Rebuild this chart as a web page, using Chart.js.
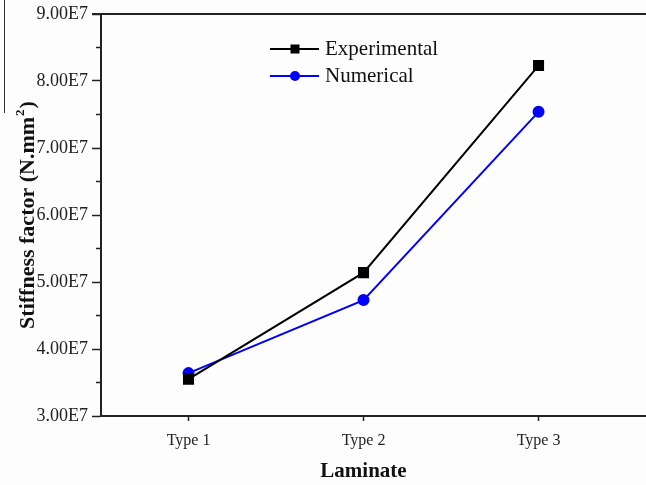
<!DOCTYPE html>
<html>
<head>
<meta charset="utf-8">
<script src="https://cdn.jsdelivr.net/npm/chart.js@4/dist/chart.umd.min.js"></script>
<style>
html,body{margin:0;padding:0;background:#fdfdfd;}
#wrap{width:646px;height:485px;position:relative;}
</style>
</head>
<body>
<div id="wrap"><canvas id="c" width="646" height="485"></canvas></div>
<script>
const categories = ["Type 1", "Type 2", "Type 3"];
const experimental = [3.55e7, 5.14e7, 8.23e7];
const numerical = [3.64e7, 4.73e7, 7.54e7];
const yTicks = [3e7, 4e7, 5e7, 6e7, 7e7, 8e7, 9e7];
const yMinorTicks = [3.5e7, 4.5e7, 5.5e7, 6.5e7, 7.5e7, 8.5e7];
const yTitle = "Stiffness factor (N.mm";
const yTitleSup = "2";
const xTitle = "Laminate";

const SERIF = "'Liberation Serif','Times New Roman',serif";

function toPoints(arr){ return arr.map((v,i)=>({x:i+1,y:v})); }

const decor = {
  id:'decor',
  afterDraw(chart){
    const ctx = chart.ctx, ca = chart.chartArea;
    const xs = chart.scales.x, ys = chart.scales.y;
    ctx.save();
    // top frame line
    ctx.strokeStyle = '#222'; ctx.lineWidth = 2;
    ctx.beginPath(); ctx.moveTo(ca.left-9, ca.top); ctx.lineTo(ca.right, ca.top); ctx.stroke();
    // minor ticks on y
    ctx.lineWidth = 1.5;
    yMinorTicks.forEach(v=>{
      const y = ys.getPixelForValue(v);
      ctx.beginPath(); ctx.moveTo(ca.left-5, y); ctx.lineTo(ca.left, y); ctx.stroke();
    });
    // small artifact line at far left
    ctx.strokeStyle = '#333'; ctx.lineWidth = 1;
    ctx.beginPath(); ctx.moveTo(4.5, 0); ctx.lineTo(4.5, 113); ctx.stroke();

    // y title (centred on the chart area)
    ctx.fillStyle = '#111';
    const big = "bold 22px " + SERIF, small = "bold 13px " + SERIF;
    ctx.font = big;
    const w = ctx.measureText(yTitle).width;
    const wp = ctx.measureText(")").width;
    ctx.font = small;
    const w2 = ctx.measureText(yTitleSup).width;
    const total = w + w2 + 2 + wp;
    const cy = (ca.top + ca.bottom) / 2;
    ctx.translate(34, cy + total/2);
    ctx.rotate(-Math.PI/2);
    ctx.textAlign = 'left'; ctx.textBaseline = 'alphabetic';
    ctx.font = big;
    ctx.fillText(yTitle, 0, 0);
    ctx.font = small;
    ctx.fillText(yTitleSup, w + 1, -10);
    ctx.font = big;
    ctx.fillText(")", w + w2 + 2, 0);
    ctx.setTransform(1,0,0,1,0,0);

    // x title
    ctx.font = "bold 21px " + SERIF;
    ctx.textAlign = 'center'; ctx.textBaseline = 'middle';
    ctx.fillText(xTitle, xs.getPixelForValue(2), 472);

    // legend
    const items = chart.data.datasets;
    items.forEach((ds, i)=>{
      const y = 49 + i*27;
      const x0 = 270, x1 = 319, xm = 295;
      ctx.strokeStyle = ds.borderColor; ctx.lineWidth = 2;
      ctx.beginPath(); ctx.moveTo(x0, y); ctx.lineTo(x1, y); ctx.stroke();
      ctx.fillStyle = ds.pointBackgroundColor;
      if (ds.pointStyle === 'rect') { ctx.fillRect(xm-4.5, y-4.5, 9, 9); }
      else { ctx.beginPath(); ctx.arc(xm, y, 5, 0, Math.PI*2); ctx.fill(); }
      ctx.fillStyle = '#111';
      ctx.font = "21px " + SERIF;
      ctx.textAlign = 'left'; ctx.textBaseline = 'middle';
      ctx.fillText(ds.label, 325, y);
    });
    ctx.restore();
  }
};

new Chart(document.getElementById('c'), {
  type: 'line',
  data: {
    datasets: [
      { label: 'Experimental', data: toPoints(experimental), borderColor: '#000', backgroundColor: '#000',
        pointBackgroundColor: '#000', pointBorderColor: '#000', pointStyle: 'rect', pointRadius: 6.4,
        borderWidth: 2, tension: 0 },
      { label: 'Numerical', data: toPoints(numerical), borderColor: '#0000ff', backgroundColor: '#0000ff',
        pointBackgroundColor: '#0000ff', pointBorderColor: '#0000ff', pointStyle: 'circle', pointRadius: 5,
        borderWidth: 2, tension: 0 }
    ]
  },
  options: {
    responsive: false,
    animation: false,
    layout: { autoPadding: false, padding: { top: 14, right: 0, left: 0, bottom: 0 } },
    plugins: { legend: { display: false }, tooltip: { enabled: false } },
    scales: {
      x: {
        type: 'linear', min: 0.5, max: 3.614,
        afterBuildTicks: s => { s.ticks = categories.map((c,i)=>({value:i+1})); },
        afterFit: s => { s.height = 69; s.paddingLeft = 0; s.paddingRight = 0; },
        ticks: { callback: v => categories[v-1], color: '#222', font: { family: SERIF, size: 16 }, padding: 10, maxRotation: 0 },
        grid: { drawOnChartArea: false, tickLength: 5, tickColor: '#222', tickWidth: 1.5 },
        border: { color: '#222', width: 2 }
      },
      y: {
        min: 3e7, max: 9e7,
        afterBuildTicks: s => { s.ticks = yTicks.map(v=>({value:v})); },
        afterFit: s => { s.width = 101; s.paddingTop = 0; s.paddingBottom = 0; },
        ticks: { callback: v => (v/1e7).toFixed(2) + 'E7', color: '#222', font: { family: SERIF, size: 18 }, padding: 4 },
        grid: { drawOnChartArea: false, tickLength: 9, tickColor: '#222', tickWidth: 1.5 },
        border: { color: '#222', width: 2 }
      }
    }
  },
  plugins: [decor]
});
</script>
</body>
</html>
